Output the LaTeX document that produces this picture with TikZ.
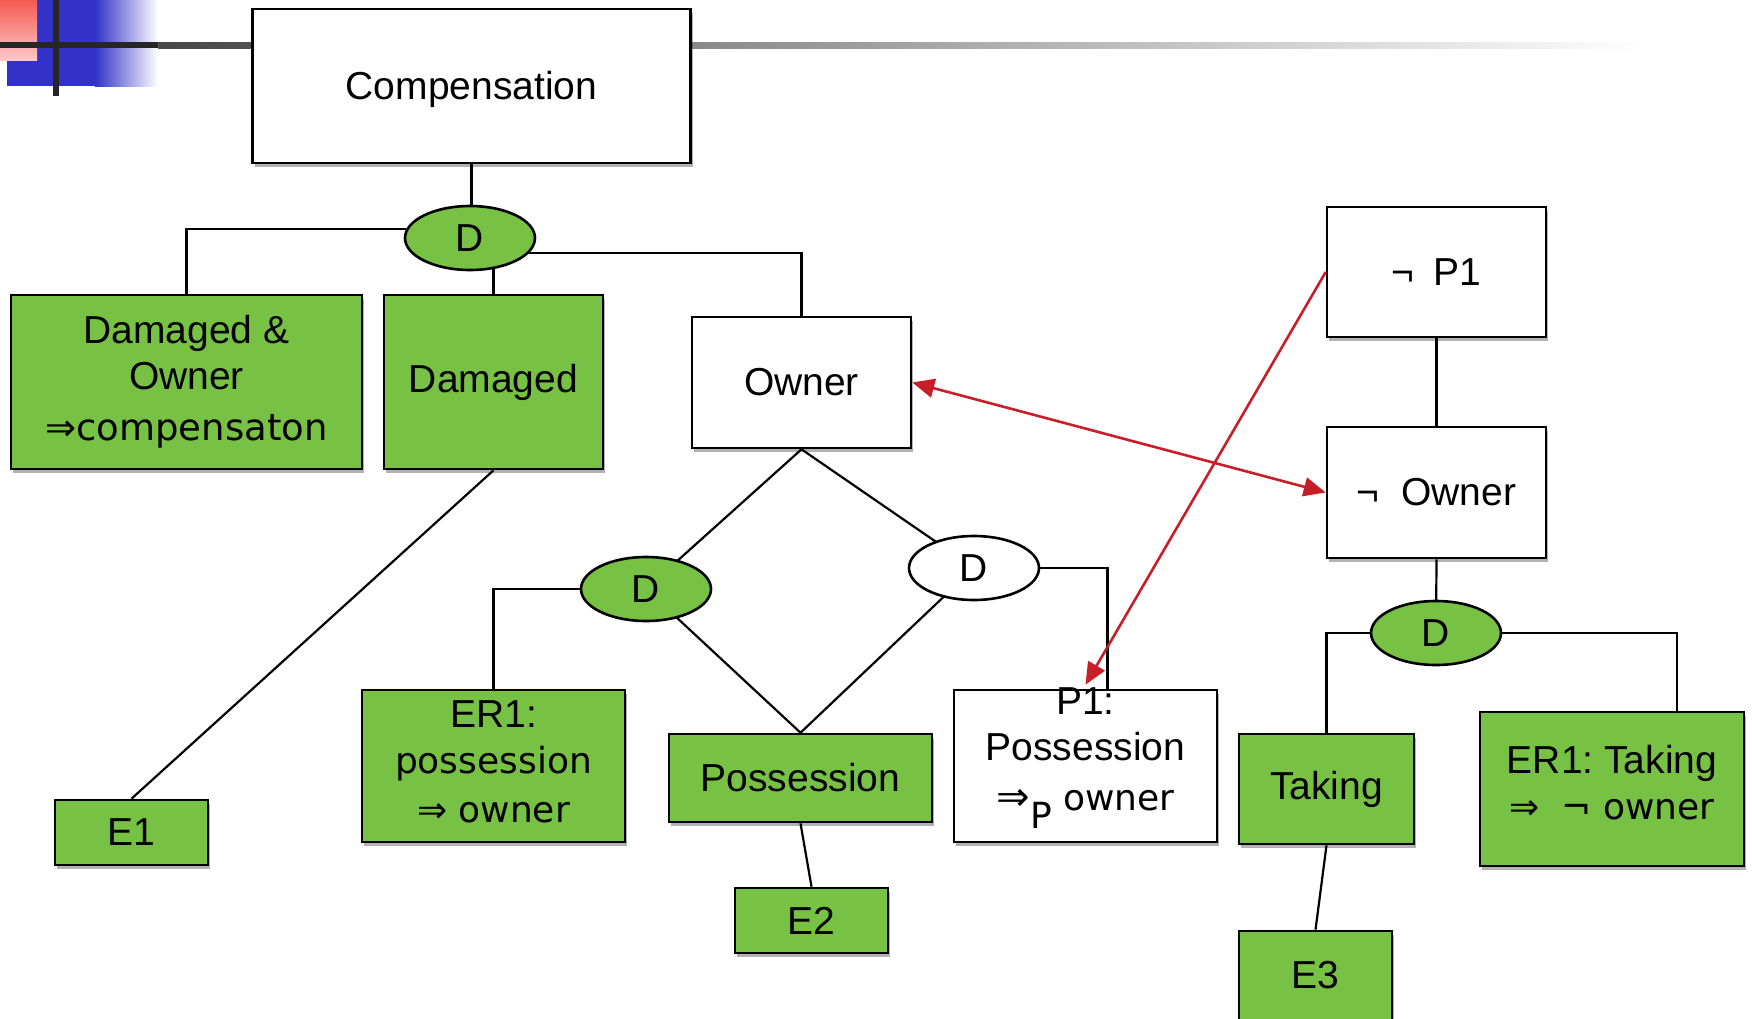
\documentclass[tikz,border=0pt]{standalone}
\usepackage{fontspec}
\setmainfont{Liberation Sans}
\newfontfamily\lucida{DejaVu Sans}
\usetikzlibrary{shapes.geometric,shadows,arrows.meta}
\pgfdeclarelayer{background}
\pgfsetlayers{background,main}
\definecolor{boxgreen}{RGB}{119,193,68}
\definecolor{arrred}{RGB}{200,30,40}
\definecolor{decoblue}{RGB}{50,50,200}
\frenchspacing
\tikzset{
  base/.style={draw=black, line width=2.6pt, inner sep=0pt, align=center,
    font=\fontsize{39}{46}\selectfont},
  shad/.style={drop shadow={shadow xshift=2pt, shadow yshift=-4pt, opacity=0.3, fill=black}},
  gbox/.style={base, shad, rectangle, fill=boxgreen},
  wbox/.style={base, shad, rectangle, fill=white},
  gdec/.style={base, ellipse, fill=boxgreen, minimum width=130pt, minimum height=64pt},
  wdec/.style={base, ellipse, fill=white, minimum width=130pt, minimum height=64pt},
  conn/.style={line width=2.2pt, black},
  rel/.style={line width=2.6pt, arrred, -{Triangle[length=22pt,width=19pt]}},
  txt/.style={font=\fontsize{39}{46}\selectfont, align=center, inner sep=0pt}
}
\newcommand{\luc}[1]{{\lucida\fontsize{36}{44}\selectfont #1}}
\begin{document}
\begin{tikzpicture}[x=1pt, y=-1pt]
\useasboundingbox (0,0) rectangle (1752,1018);
\clip (0,0) rectangle (1752,1018);
% decoration top-left
\shade[left color=black!80, right color=white] (0,42) rectangle (1650,48);
\fill[decoblue] (7,0) rectangle (95,86);
\shade[left color=decoblue, right color=white] (95,0) rectangle (158,86);
\shade[top color={rgb,255:red,245;green,90;blue,80}, bottom color={rgb,255:red,252;green,200;blue,200}] (0,0) rectangle (37,60);
\fill[black!85] (0,42) rectangle (158,48);
\fill[black!85] (53,0) rectangle (59,96);

% nodes
\node[wbox, minimum width=438pt, minimum height=154pt] (comp) at (471.5,86) {};
\node[txt] (compt) at (471.5,89) {Compensation};
\node[gdec] (d1) at (470,238) {D};
\node[gbox, minimum width=351pt, minimum height=174pt] (dao) at (186.5,382)
  {Damaged \&\\Owner\\[5pt]{\lucida\fontsize{37}{44}\selectfont ⇒compensaton}};
\node[gbox, minimum width=219pt, minimum height=174pt] (dmg) at (493.5,382) {Damaged};
\node[wbox, minimum width=219pt, minimum height=131pt] (owner) at (801.5,382.5) {Owner};
\node[gdec] (d2) at (646,589) {D};
\node[wdec] (d3) at (974,568) {D};
\node[gbox, minimum width=263pt, minimum height=152pt] (er1) at (493.5,766) {};
\node[txt] (er1t) at (493.5,762)
  {ER1:\\\luc{possession}\\[3pt]\luc{⇒ owner}};
\node[gbox, minimum width=263pt, minimum height=88pt] (poss) at (800.5,778) {Possession};
\node[wbox, minimum width=263pt, minimum height=152pt] (p1) at (1085.5,766) {};
\node[txt] (p1t) at (1085.5,758)
  {P1:\\Possession\\[4pt]\luc{{\fontsize{40}{44}\selectfont ⇒}\raisebox{-0.5em}{P} owner}};
\node[gbox, minimum width=153pt, minimum height=65pt] (e1) at (131.5,832.5) {E1};
\node[gbox, minimum width=153pt, minimum height=65pt] (e2) at (811.5,920.5) {E2};
\node[wbox, minimum width=219pt, minimum height=130pt] (np1) at (1436.5,272) {¬\hspace{0.5em}P1};
\node[wbox, minimum width=219pt, minimum height=131pt] (nown) at (1436.5,492.5) {¬\hspace{0.55em}Owner};
\node[gdec] (d4) at (1436,633) {D};
\node[gbox, minimum width=175pt, minimum height=110pt] (tak) at (1326.5,789) {Taking};
\node[gbox, minimum width=264pt, minimum height=154pt] (ertk) at (1612,789) {};
\node[txt] (ertkt) at (1612,783)
  {ER1: Taking\\\luc{⇒\hspace{0.6em}¬ owner}};
\node[gbox, minimum width=153pt, minimum height=110pt] (e3) at (1315.5,986) {};
\node[txt] (e3t) at (1315.5,975) {E3};

% connectors
\begin{pgfonlayer}{background}
\draw[conn] (comp.south) -- (comp.south |- d1.center);
\draw[conn] (d1.172) -| (dao.north);
\draw[conn] (dmg.north) -- (dmg.north |- d1.center);
\draw[conn] (d1.-14) -| (owner.north);
\draw[conn] (dmg.south) -- (e1.north);
\draw[conn] (owner.south) -- (d2.center);
\draw[conn] (owner.south) -- (d3.center);
\draw[conn] (d2.center) -- (poss.north);
\draw[conn] (d3.center) -- (poss.north);
\draw[conn] (d2.center) -| (er1.north);
\draw[conn] (d3.center) -| ([xshift=22pt]p1.north);
\draw[conn] (poss.south) -- (e2.north);
\draw[conn] (np1.south) -- (nown.north);
\draw[conn] (nown.south) -- (d4.center);
\draw[conn] (d4.center) -| (tak.north);
\draw[conn] (d4.center) -| ([xshift=65pt]ertk.north);
\draw[conn] (tak.south) -- (e3.north);
\end{pgfonlayer}

% relations
\draw[rel] (np1.west) -- ([yshift=4pt]p1.north);
\draw[rel, {Triangle[length=22pt,width=19pt]}-{Triangle[length=22pt,width=19pt]}] (owner.east) -- (nown.west);
\end{tikzpicture}
\end{document}
